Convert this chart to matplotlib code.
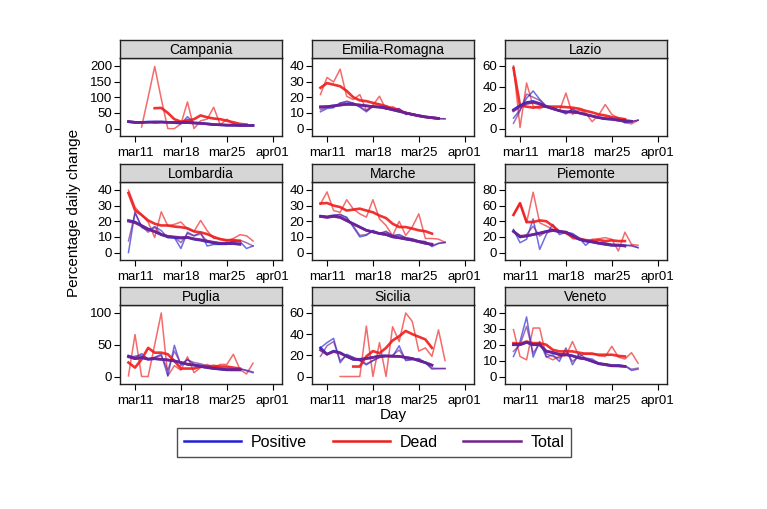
import numpy as np
import pandas as pd
import matplotlib
matplotlib.use("Agg")
import matplotlib.pyplot as plt
from matplotlib.lines import Line2D

plt.rcParams['font.family'] = ['Liberation Sans', 'DejaVu Sans']

N = np.nan
days = pd.date_range('2020-03-10', '2020-03-29', freq='D')
tick_dates = pd.to_datetime(['2020-03-11', '2020-03-18', '2020-03-25', '2020-04-01'])
tick_labels = ['mar11', 'mar18', 'mar25', 'apr01']

regions = ['Campania', 'Emilia-Romagna', 'Lazio', 'Lombardia', 'Marche',
           'Piemonte', 'Puglia', 'Sicilia', 'Veneto']
yticks = {
    'Campania': [0, 50, 100, 150, 200], 'Emilia-Romagna': [0, 10, 20, 30, 40],
    'Lazio': [0, 20, 40, 60], 'Lombardia': [0, 10, 20, 30, 40],
    'Marche': [0, 10, 20, 30, 40], 'Piemonte': [0, 20, 40, 60, 80],
    'Puglia': [0, 50, 100], 'Sicilia': [0, 20, 40, 60], 'Veneto': [0, 10, 20, 30, 40],
}

# raw daily % change (Mar 10 .. Mar 29)
pos_raw = {
    'Campania': [20, 18, 18, 22, 18, 20, 20, 17, 15, 38, 18, 16, 15, 12, 12, 10, 10, 10, 10, 10],
    'Emilia-Romagna': [10.7, 12.8, 13.3, 16.4, 17, 16.4, 13.7, 10.7, 14.3, 13.7, 14.3, 12.2, 12.8, 9, 9.5, 8, 7.4, 6.5, 6.3, 6.2],
    'Lazio': [10, 18, 29, 36, 28, 21.5, 19, 17, 14, 19, 15, 13.6, 12, 10.4, 8.8, 8.8, 8, 5.7, 6.6, 8],
    'Lombardia': [0, 26, 16, 14, 16.6, 14, 9.6, 9.6, 2.6, 13, 10.7, 13, 4.2, 5.2, 5.2, 5.2, 7.4, 7, 2.6, 4.2],
    'Marche': [23.6, 23.2, 24, 24, 22.6, 16.3, 10, 11, 14.2, 12.1, 13.6, 10.7, 11.5, 9.4, 8.6, 7.3, 6.9, 3.8, 5.9, 6.5],
    'Piemonte': [29.5, 12.6, 17, 43, 4, 23, 36, 23, 26, 24.4, 19, 9.3, 16, 12.6, 11.8, 10.5, 9.3, 9.3, 9.3, 6.3],
    'Puglia': [33, 30, 36, 27, 30, 35, 1, 49, 17, 27, 19, 18, 15.6, 14, 11.5, 10.4, 11.5, 12.5, 9, 6],
    'Sicilia': [27, 32, 36, 13, 21, 18, 15, 11, 15, 18, 19, 19, 29, 15, 16, 17, 13, 7, 7.5, 7.5],
    'Veneto': [12.6, 22, 37.5, 12.2, 22, 12.2, 13.7, 9.5, 18, 7.4, 14.3, 11.6, 11, 8.4, 8, 6.7, 7.4, 6.7, 3.8, 4.6],
}
dead_raw = {
    'Campania': [N, N, 5, 100, 198, 95, 0, 0, 15, 85, 0, 25, 30, 68, 12, 30, 15, 12, 10, N],
    'Emilia-Romagna': [21.7, 32.6, 29.7, 37.9, 20.6, 18.5, 21.7, 11.6, 15, 20.6, 12.2, 14, 12, 10, 9.5, 8, 7.5, 6.8, 6.3, N],
    'Lazio': [60, 1, 43.6, 21.5, 19, 22, 20.5, 17, 34, 13.6, 18, 15, 6.6, 13, 23, 13.6, 10, 5.7, 4.5, 8],
    'Lombardia': [39.8, 29, 24, 19.5, 9.6, 26, 17, 18, 19.5, 15, 13.5, 20.5, 14, 9, 9, 7.4, 9, 11.4, 10.7, 7.4],
    'Marche': [31, 38.7, 26.8, 25.7, 33.7, 27.8, 24.7, 22.6, 33.7, 21.5, 17.3, 10.7, 19.9, 11, 16.3, 24.7, 9, 9, 8.6, 6.5],
    'Piemonte': [48, 63, 38, 77, 38, 34, 29.5, 25, 27, 17.7, 17, 14.7, 17, 17.7, 19, 17, 2, 26, 10.5, 9.3],
    'Puglia': [1, 66, 0, 0, 50, 100, 1, 17, 10, 31, 6, 14, 19, 14, 19, 19, 35, 11, 4, 21],
    'Sicilia': [N, N, N, 0, 0, 0, 0, 47.5, 0, 32, 0, 47, 33, 60, 52, 24, 27, 19, 44, 15],
    'Veneto': [29.5, 12.6, 10.5, 30.5, 30.5, 12.6, 10.5, 12.6, 13, 22, 12.6, 14.7, 14.7, 13, 12.6, 19, 12.2, 11, 15, 8.4],
}
tot_raw = {
    'Campania': [22, 19, 19, 21, 19, 20, 19, 18, 17, 30, 17, 16, 14, 12, 11, 10, 10, 10, 10, 10],
    'Emilia-Romagna': [12, 13.5, 14, 16, 17.5, 16, 14, 11.5, 14, 14, 14, 12.5, 12.5, 9.5, 9.5, 8.2, 7.5, 6.7, 6.4, 6.3],
    'Lazio': [5, 17, 33, 30, 27, 21, 19.5, 17.5, 15, 18, 15.5, 13.5, 12, 10.5, 9, 8.8, 8.2, 6, 6.8, 8],
    'Lombardia': [7.4, 25, 17, 13, 16, 11.8, 10.7, 10, 6.3, 12.2, 10.7, 11.8, 7.4, 5.7, 5.7, 6.3, 7.4, 7.9, 6.3, 4.2],
    'Marche': [23, 22.5, 23.5, 24.5, 22, 17, 11, 11.5, 13.5, 12.5, 13, 11, 11, 9.6, 8.8, 7.5, 7, 4.5, 5.8, 6.5],
    'Piemonte': [28.6, 19, 23, 33.7, 21, 27, 29.5, 27, 25, 21, 17, 14.7, 14.7, 12.6, 12.6, 10.5, 10.5, 9.3, 8.4, 6.3],
    'Puglia': [30, 32, 33, 28, 30, 33, 10, 40, 20, 26, 22, 20, 17, 15, 13, 12, 12, 12, 10, 7],
    'Sicilia': [19, 29, 33, 15, 20, 18, 15, 12, 15, 18, 19, 20, 25, 16, 16, 16, 13, 8, 7.5, 7.5],
    'Veneto': [15.8, 20, 31.6, 14.7, 21, 14.3, 12.6, 11.6, 16.4, 9.5, 12.6, 11, 9.5, 8.4, 8, 7.4, 6.7, 6.7, 4.6, 5.3],
}

# smoothed trends
pos_smooth = {
    'Campania': [22, 20, 20, 21, 21, 21, 20, 20, 19, 19, 18, 17, 15, 13, 12, 11, 11, 10, 10, 10],
    'Emilia-Romagna': [14, 14, 14.5, 15, 15.5, 15.5, 15, 14.5, 14, 13.8, 13, 12, 11, 10, 9, 8.3, 7.5, 7, 6.5, N],
    'Lazio': [18, 22, 25, 26, 24, 21, 19, 17, 16, 16, 15, 13.5, 12, 10.5, 9.5, 9, 8, 7.5, 7, N],
    'Lombardia': [20.5, 19.5, 17.3, 15, 13.5, 11.4, 10, 9.6, 9.2, 9.6, 8.5, 7.9, 7, 6.3, 5.7, 5.7, 5.7, 5.2, N, N],
    'Marche': [23.2, 22.6, 23.2, 22.6, 20.5, 18.4, 16.3, 14.2, 13.2, 12.1, 11.5, 10, 9.4, 8.6, 7.9, 6.9, 5.9, 5.2, N, N],
    'Piemonte': [27, 20, 21, 23, 25, 27, 28.6, 27, 26, 22, 17, 14.7, 13.5, 11.8, 10.5, 9.3, 9.3, 8.4, N, N],
    'Puglia': [32, 28, 30, 27, 28, 27, 26, 24.5, 22, 19, 18, 15.6, 14, 12.5, 11.5, 10.4, 10.4, 10.4, N, N],
    'Sicilia': [27, 21, 24, 22.5, 19, 16, 16, 17, 18, 19.4, 19.4, 19, 19, 18, 17, 15, 13, 10.6, N, N],
    'Veneto': [20, 20, 21.5, 20, 20, 15.8, 15, 13.7, 13.7, 13, 11.6, 11, 9.5, 8, 7.4, 6.7, 6.7, 6.3, N, N],
}
dead_smooth = {
    'Campania': [N, N, N, N, 65, 66, 50, 30, 22, 25, 30, 42, 36, 32, 30, 25, 20, 15, 13, N],
    'Emilia-Romagna': [26, 29, 28, 27, 24, 20, 18, 17.5, 16.4, 15.4, 14.3, 12.8, 11.6, 10, 9, 8, 7.4, 7, 6.5, N],
    'Lazio': [58, 22, 21, 20, 21, 21, 21, 21, 20.5, 20, 19, 17, 15.5, 13.6, 12.5, 11, 10, 9, N, N],
    'Lombardia': [38, 27, 24, 20.5, 18.4, 17.3, 17.3, 16.6, 16.2, 15.5, 13.5, 12.9, 11.8, 10, 8.5, 7.9, 8, 7.4, N, N],
    'Marche': [31.3, 31.6, 30, 29, 26.8, 27.4, 28, 26.8, 25.7, 23.6, 22, 18.4, 16.3, 16.3, 15.3, 14.2, 13.6, 12.1, N, N],
    'Piemonte': [48, 63, 39, 39, 41, 40, 34, 27, 25, 20, 17.7, 16, 14.7, 16, 14.7, 15.6, 14.7, 14.7, N, N],
    'Puglia': [22, 14, 27, 45, 37.5, 37.5, 35, 24.5, 12.5, 12.5, 12.5, 15.6, 15.6, 16.7, 15.6, 15.6, 14, 12.5, N, N],
    'Sicilia': [N, N, N, N, N, 9.4, 9.4, 19, 24, 22, 27, 34, 38, 43, 40, 37.5, 35, 27, N, N],
    'Veneto': [21, 20.6, 22, 21, 21, 20, 16.8, 15.8, 15.8, 15.8, 15, 14.3, 14.3, 13.7, 13.7, 13.7, 13, 12.6, N, N],
}
tot_smooth = {
    'Campania': [23, 20, 20, 20, 21, 21, 20, 20, 19, 19, 18, 17, 15, 13, 12, 11, 11, 10, 10, 10],
    'Emilia-Romagna': [13.5, 14, 14.5, 15, 15.5, 15.3, 15, 14.5, 14, 13.6, 13, 12, 11, 10, 9, 8.2, 7.4, 6.9, 6.4, N],
    'Lazio': [17, 21, 24, 25, 23.5, 21, 19, 17.2, 16, 15.8, 15, 13.5, 12, 10.5, 9.5, 9, 8, 7.5, 7, N],
    'Lombardia': [20, 19, 17, 15, 13.3, 11.6, 10.4, 10, 9.6, 9.8, 8.8, 8.2, 7.4, 6.6, 6, 6, 6, 5.6, N, N],
    'Marche': [23, 22.4, 23, 22.4, 20.3, 18.2, 16.2, 14.2, 13.2, 12.2, 11.5, 10.1, 9.5, 8.7, 8, 7, 6, 5.4, N, N],
    'Piemonte': [27, 21, 21.5, 23, 24.5, 26.5, 28, 27, 26, 22, 17.3, 15, 13.7, 12, 10.7, 9.5, 9.4, 8.5, N, N],
    'Puglia': [31, 28, 29.5, 27.5, 28, 27, 26, 24.5, 22, 19.5, 18, 16, 14.2, 12.8, 11.8, 10.8, 10.6, 10.5, N, N],
    'Sicilia': [25, 21, 23.5, 22, 19, 16.5, 16.3, 17, 18, 19.2, 19.5, 19.3, 19, 18, 17, 15, 13.2, 10.8, N, N],
    'Veneto': [20, 20, 21.5, 20, 20, 16, 15.2, 14, 13.8, 13, 11.8, 11, 9.7, 8.2, 7.5, 6.8, 6.7, 6.4, N, N],
}

series_names = ['Positive', 'Dead', 'Total']
colors = {'Positive': '#1f1fd6', 'Dead': '#ee1c1c', 'Total': '#74218c'}

W, H = 767, 509
fig = plt.figure(figsize=(W / 100, H / 100), dpi=100)

col_x = [(120, 282), (312, 474), (505, 667)]
row_y = [(58, 136), (182, 260), (305, 384)]
strip_h = 18

xlim = (pd.Timestamp('2020-03-08 17:00'), pd.Timestamp('2020-04-02 10:00'))

for i, reg in enumerate(regions):
    r, c = divmod(i, 3)
    x0, x1 = col_x[c]
    y0, y1 = row_y[r]
    ax = fig.add_axes([x0 / W, 1 - y1 / H, (x1 - x0) / W, (y1 - y0) / H])
    # raw lines (thin, lighter)
    for name, raw in (('Dead', dead_raw), ('Positive', pos_raw), ('Total', tot_raw)):
        ax.plot(days, np.array(raw[reg], dtype=float), color=colors[name],
                lw=1.1, alpha=0.65, zorder=2)
    # smoothed (thick)
    for name, sm in (('Dead', dead_smooth), ('Positive', pos_smooth), ('Total', tot_smooth)):
        ax.plot(days, np.array(sm[reg], dtype=float), color=colors[name],
                lw=1.9, alpha=0.9, zorder=3)
    T = yticks[reg][-1]
    ax.set_ylim(-0.118 * T, 1.125 * T)
    ax.set_yticks(yticks[reg])
    ax.set_xlim(*xlim)
    ax.set_xticks(tick_dates)
    ax.set_xticklabels(tick_labels)
    ax.tick_params(axis='both', labelsize=9.5, length=4, width=0.8, color='black')
    ax.tick_params(axis='x', pad=4)
    ax.tick_params(axis='y', pad=1.5)
    for sp in ax.spines.values():
        sp.set_linewidth(1.0)
        sp.set_color('#222222')
    # strip
    sax = fig.add_axes([x0 / W, 1 - y0 / H, (x1 - x0) / W, strip_h / H])
    sax.set_facecolor('#d6d6d6')
    sax.set_xticks([])
    sax.set_yticks([])
    for sp in sax.spines.values():
        sp.set_linewidth(1.0)
        sp.set_color('#222222')
    sax.text(0.5, 0.45, reg, ha='center', va='center', fontsize=10, transform=sax.transAxes)

fig.text(74 / W, 1 - 213 / H, 'Percentage daily change', rotation=90,
         ha='center', va='center', fontsize=11)
fig.text(393 / W, 1 - 415 / H, 'Day', ha='center', va='center', fontsize=11)

handles = [Line2D([0], [0], color=colors[n], lw=1.8) for n in series_names]
leg = fig.legend(handles, series_names, loc='center', ncol=3,
                 bbox_to_anchor=(374 / W, 1 - 442.5 / H), fontsize=11.5,
                 frameon=True, fancybox=False, handlelength=3.6,
                 handletextpad=0.6, columnspacing=1.6, borderpad=0.45)
leg.get_frame().set_edgecolor('#222222')
leg.get_frame().set_linewidth(1.0)

fig.savefig('out.png', dpi=100)
